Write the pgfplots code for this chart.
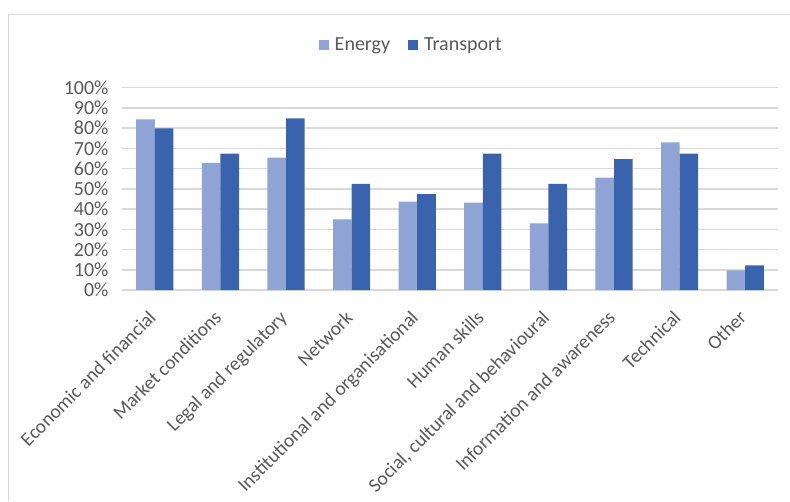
\documentclass[border=0pt]{standalone}
\usepackage{pgfplots}
\pgfplotsset{compat=1.18}
\usepackage{fontspec}
\setmainfont{Carlito}
\definecolor{energy}{HTML}{8FA4D4}
\definecolor{transport}{HTML}{3A63AD}
\definecolor{gridc}{HTML}{D9D9D9}
\definecolor{txt}{HTML}{595959}
\begin{document}
\begin{tikzpicture}[x=1pt,y=1pt]
\useasboundingbox (0,0) rectangle (790,501);
\draw[gridc, line width=1.5pt] (8.5,0) -- (8.5,486.5) -- (790,486.5);
\begin{axis}[
  at={(122pt,211pt)}, anchor=south west,
  scale only axis, width=656pt, height=202.3pt,
  ymin=0, ymax=100, xmin=-0.5, xmax=9.5,
  ybar=0pt, bar width=18.6pt,
  axis line style={draw=none},
  major tick length=0pt,
  ymajorgrids, grid style={gridc, line width=1.5pt},
  ytick={0,10,...,100},
  yticklabel={\pgfmathprintnumber{\tick}\%},
  /pgf/number format/assume math mode=true,
  tick label style={font=\fontsize{20}{23}\selectfont, text=txt},
  yticklabel style={anchor=east, xshift=-10pt},
  xtick={0,...,9},
  xticklabels={Economic and financial, Market conditions, Legal and regulatory, Network, Institutional and organisational, Human skills, {Social, cultural and behavioural}, Information and awareness, Technical, Other},
  xticklabel style={rotate=45, anchor=north east, xshift=-18.7pt, yshift=-8.3pt, inner sep=0pt, font=\fontsize{19.5}{23}\selectfont},
  legend style={at={(0.441,1.211)}, anchor=center, draw=none, fill=none,
    legend columns=2, font=\fontsize{20}{23}\selectfont, text=txt,
    /tikz/every odd column/.append style={column sep=4pt},
    /tikz/every even column/.append style={column sep=16pt}},
  legend image code/.code={\fill[#1] (0pt,-5pt) rectangle (10pt,5pt);},
]
\addplot[fill=energy, draw=none] coordinates {(0,84.3) (1,62.8) (2,65.4) (3,34.9) (4,43.7) (5,43.2) (6,32.9) (7,55.5) (8,73.0) (9,9.7)};
\addplot[fill=transport, draw=none] coordinates {(0,79.9) (1,67.4) (2,84.8) (3,52.4) (4,47.4) (5,67.4) (6,52.4) (7,64.7) (8,67.4) (9,12.2)};
\legend{Energy, Transport}
\end{axis}
\end{tikzpicture}
\end{document}
